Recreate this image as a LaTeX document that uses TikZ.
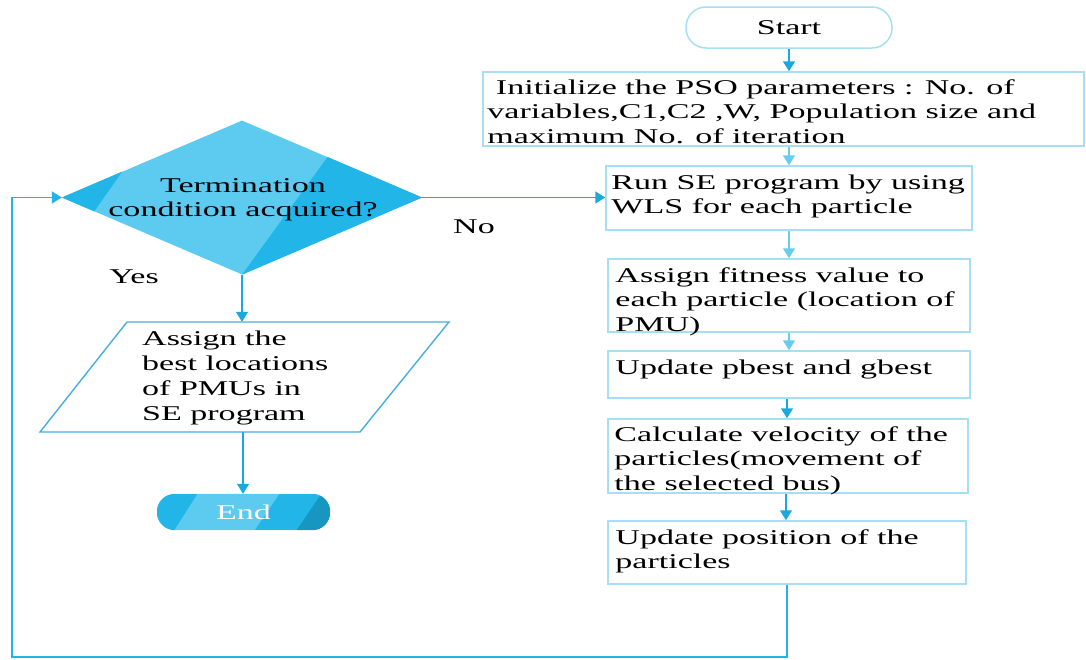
\documentclass[tikz,border=0pt]{standalone}
\usepackage{fontspec}
\setmainfont{Liberation Serif}[FakeStretch=1.62]
\usetikzlibrary{arrows.meta,shapes.geometric,calc}
\definecolor{boxc}{HTML}{A6DFF4}
\definecolor{darkarr}{HTML}{1AA8DE}
\definecolor{lightarr}{HTML}{66CDEF}
\definecolor{parac}{HTML}{45AEE0}
\definecolor{loopc}{HTML}{24B3E8}
\definecolor{dlight}{HTML}{5DCAF0}
\definecolor{ddark}{HTML}{22B5E8}
\definecolor{ddarker}{HTML}{1896C2}
\newcommand\fs{\rule{0pt}{16pt}}
\begin{document}
\begin{tikzpicture}[x=1pt,y=-1pt,
  txt/.style={font=\fontsize{21}{24.5}\selectfont, inner sep=0pt, align=left, text=black},
  boxn/.style={draw=boxc, line width=1.5pt, rectangle, inner sep=0pt},
  darrow/.style={draw=darkarr, line width=1.5pt, -{Triangle[width=12pt,length=10pt]}},
  larrow/.style={draw=lightarr, line width=1.5pt, -{Triangle[width=12pt,length=10pt]}}]
\useasboundingbox (0,0) rectangle (1086,659);
% start
\node[draw=boxc, line width=1.5pt, rounded corners=20pt, minimum width=206pt, minimum height=41pt, inner sep=0pt,
      font=\fontsize{21}{24.5}\selectfont] (start) at (789,27.5) {Start};
% boxes
\node[boxn, minimum width=601pt, minimum height=74pt] (init) at (783.5,109) {};
\node[boxn, minimum width=366pt, minimum height=64pt] (run) at (789,198) {};
\node[boxn, minimum width=362pt, minimum height=73pt] (fit) at (789,295.5) {};
\node[boxn, minimum width=362pt, minimum height=47pt] (pb) at (789,374.5) {};
\node[boxn, minimum width=360pt, minimum height=74pt] (vel) at (788,456) {};
\node[boxn, minimum width=358pt, minimum height=63pt] (upd) at (787,552.5) {};
% box texts
\node[txt, anchor=north west] (initt) at ([xshift=5pt,yshift=-7pt]init.north west)
  {\fs\ Initialize the PSO parameters : No. of\\variables,C1,C2 ,W, Population size and\\maximum No. of iteration};
\node[txt, anchor=north west] (runt) at ([xshift=6pt,yshift=-8pt]run.north west)
  {\fs Run SE program by using\\WLS for each particle};
\node[txt, anchor=north west] (fitt) at ([xshift=8pt,yshift=-8pt]fit.north west)
  {\fs Assign fitness value to\\each particle (location of\\PMU)};
\node[txt, anchor=north west] (pbt) at ([xshift=8pt,yshift=-8pt]pb.north west)
  {\fs Update pbest and gbest};
\node[txt, anchor=north west] (velt) at ([xshift=7pt,yshift=-7pt]vel.north west)
  {\fs Calculate velocity of the\\particles(movement of\\the selected bus)};
\node[txt, anchor=north west] (updt) at ([xshift=8pt,yshift=-8pt]upd.north west)
  {\fs Update position of the\\particles};
% diamond
\node[diamond, minimum width=360pt, minimum height=154pt, inner sep=0pt, fill=dlight] (dec) at (242,197.5) {};
\fill[ddark] (dec.west) -- ($(dec.west)!0.335!(dec.north)$) -- ($(dec.west)!0.18!(dec.south)$) -- cycle;
\fill[ddark] ($(dec.north)!0.475!(dec.east)$) -- (dec.east) -- (dec.south) -- cycle;
\node[txt, align=center] (dect) at (243,200) {Termination\\condition acquired?};
% parallelogram
\node[inner sep=0pt, minimum width=200pt, minimum height=110pt] (para) at (243,377) {};
\draw[draw=parac, line width=1.4pt] (127,322) -- (449,322) -- (360,432) -- (40,432) -- cycle;
\node[txt, anchor=north west, font=\fontsize{21}{25}\selectfont] (parat) at (142,329)
  {\fs Assign the\\best locations\\of PMUs in\\SE program};
% end
\node[rounded corners=18pt, minimum width=173pt, minimum height=36pt, inner sep=0pt] (endn) at (243.5,512) {};
\begin{scope}
  \clip[rounded corners=18pt] (endn.south west) rectangle (endn.north east);
  \fill[ddark] (endn.south west) rectangle (endn.north east);
  \fill[dlight] (200,490) -- (282,490) -- (252,534) -- (172,534) -- cycle;
  \fill[ddarker] (324,490) -- (350,490) -- (350,534) -- (294,534) -- cycle;
\end{scope}
\node[font=\fontsize{21}{24.5}\selectfont, text=white, inner sep=0pt] (endt) at (endn.center) {End};
% labels
\node[txt] (nol) at (474,227) {No};
\node[txt] (yesl) at (134,277) {Yes};
% connectors
\draw[darrow] (start.south) -- (start.south |- init.north);
\draw[larrow] (init.south -| start.south) -- (start.south |- run.north);
\draw[larrow] (run.south) -- (run.south |- fit.north);
\draw[larrow] (fit.south) -- (fit.south |- pb.north);
\draw[darrow] ([xshift=-2pt]pb.south) -- ([xshift=-2pt]pb.south |- vel.north);
\draw[darrow] ([xshift=-2pt]vel.south) -- ([xshift=-2pt]vel.south |- upd.north);
\coordinate (lb) at (12,657);
\draw[darrow, draw=loopc] (upd.south) |- (lb) |- (dec.west);
\draw[darrow] (dec.east) -- (dec.east -| run.west);
\draw[darrow] (dec.south) -- (dec.south |- para.north);
\draw[darrow] (para.south) -- (para.south |- endn.north);
\end{tikzpicture}
\end{document}
